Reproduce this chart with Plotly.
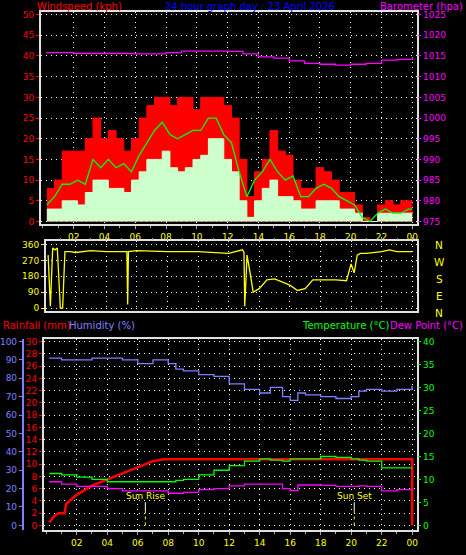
import plotly.graph_objects as go

# ---- data (hours of day, 24 = midnight end) ----
wind_t = [0.25, 0.75, 1.25, 1.75, 2.25, 2.75, 3.25, 3.75, 4.25, 4.75, 5.25, 5.75,
          6.25, 6.75, 7.25, 7.75, 8.25, 8.75, 9.25, 9.75, 10.25, 10.75, 11.25, 11.75,
          12.25, 12.75, 13.25, 13.75, 14.25, 14.75, 15.25, 15.75, 16.25, 16.75, 17.25, 17.75,
          18.25, 18.75, 19.25, 19.75, 20.25, 20.75, 21.25, 21.75, 22.25, 22.75, 23.25, 23.75, 24.0]
gust = [8, 10, 17, 17, 17, 20, 25, 20, 22, 20, 17, 20,
        25, 28, 30, 30, 28, 30, 30, 27, 30, 30, 30, 28,
        25, 15, 6, 12, 15, 22, 17, 16, 10, 8, 8, 13,
        12, 10, 7, 7, 4, 1, 0, 4, 5, 4, 5, 5, 5]
avg = [3, 3, 5, 5, 4, 7, 10, 10, 8, 8, 7, 10,
       12, 15, 15, 17, 13, 12, 13, 15, 16, 20, 20, 15,
       12, 5, 1, 5, 8, 10, 6, 6, 5, 3, 3, 5,
       5, 5, 3, 3, 2, 0, 0, 2, 2, 2, 2, 2, 2]
avg10 = [4, 6, 9, 9, 10, 9, 15, 13, 15, 13, 14, 12,
         16, 19, 22, 24, 21, 20, 21, 22, 22, 25, 25, 21,
         19, 12, 6, 10, 12, 15, 12, 10, 11, 6, 6, 8,
         9, 8, 6, 5, 4, 1, 0, 2, 3, 2, 2, 3, 3]

baro_t = [0.2, 2, 4, 6, 8, 9, 10, 11, 12, 13, 14, 15, 16, 17, 18, 19, 20, 21, 22, 23, 24]
baro = [1015.8, 1015.6, 1015.6, 1015.5, 1015.8, 1016.2, 1016.2, 1016.2, 1016.1, 1015.5, 1014.8,
        1014.5, 1013.8, 1013.2, 1013.0, 1012.8, 1013.0, 1013.2, 1014.0, 1014.2, 1014.8]

dir_t = [0.2, 0.35, 0.5, 0.65, 0.8, 1.0, 1.15, 1.3, 1.5, 1.65, 2.0, 3.0, 4.0, 5.0, 5.35, 5.4, 5.45,
         6.0, 8.0, 10.0, 12.0, 12.9, 13.0, 13.05, 13.2, 13.4, 13.6, 14.0, 14.5, 15.0, 16.0, 16.5,
         17.0, 17.5, 18.0, 19.0, 19.7, 20.0, 20.2, 20.4, 20.6, 21.0, 22.0, 22.5, 23.0, 24.0]
wdir = [300, 10, 340, 330, 340, 0, 0, 320, 320, 320, 315, 325, 320, 320, 320, 20, 320,
        325, 320, 320, 310, 330, 315, 10, 300, 200, 90, 110, 160, 165, 130, 100,
        110, 160, 160, 160, 155, 250, 200, 300, 310, 310, 320, 330, 320, 320]

th_t = [0.2, 1, 2, 3, 4, 5, 6, 7, 8, 8.5, 9, 10, 11, 12, 13, 14, 14.7, 15.5, 16, 16.5,
        17, 18, 19, 20, 20.5, 21, 22, 23, 24]
humidity = [91, 90, 90, 91, 91, 90, 88, 90, 88, 85, 84, 82, 81, 77, 74, 72, 75, 70, 68, 72,
            71, 70, 69, 70, 73, 74, 73, 74, 76]
temp = [11.3, 11, 10.5, 10, 9.5, 9.5, 9.5, 9.5, 9.5, 9.8, 10, 11, 12, 13, 14, 14.5, 14.2, 14, 14.5, 14.5,
        14.5, 15, 14.8, 14.5, 14.2, 14, 12.5, 12.5, 12.5]
dew = [9.5, 9, 8.5, 8.5, 8, 7.5, 7.5, 7.5, 7, 7, 7.2, 7.8, 8, 8.6, 9, 9, 9, 8, 7.6, 8.8,
       8.8, 8.7, 8.5, 8.5, 8.6, 8.5, 7.5, 7.8, 8]

rain_t = [0.2, 0.5, 0.8, 1.2, 1.3, 2, 3, 4, 5, 6, 7, 7.7, 24, 24]
rain = [0.5, 1.5, 2, 2, 3.5, 5, 6.5, 7.5, 8.5, 9.5, 10.5, 10.8, 10.8, 0]

hour_vals = [2, 4, 6, 8, 10, 12, 14, 16, 18, 20, 22, 24]
hour_text = ["02", "04", "06", "08", "10", "12", "14", "16", "18", "20", "22", "00"]

W, H = 466, 555
def px(x): return x / W
def py(y): return 1 - y / H

FONT = "DejaVu Sans"
fig = go.Figure()

fig.add_trace(go.Scatter(x=wind_t, y=gust, mode="lines", line=dict(color="#ff0000", width=1, shape="hv"),
                         fill="tozeroy", fillcolor="#ff0000", xaxis="x", yaxis="y"))
fig.add_trace(go.Scatter(x=wind_t, y=avg, mode="lines", line=dict(color="#ccffcc", width=1, shape="hv"),
                         fill="tozeroy", fillcolor="#ccffcc", xaxis="x", yaxis="y"))
fig.add_trace(go.Scatter(x=wind_t, y=avg10, mode="lines", line=dict(color="#00ff00", width=1.3),
                         xaxis="x", yaxis="y"))
fig.add_trace(go.Scatter(x=baro_t, y=baro, mode="lines", line=dict(color="#ff00ff", width=1.3, shape="hv"),
                         xaxis="x", yaxis="y2"))
fig.add_trace(go.Scatter(x=dir_t, y=wdir, mode="lines", line=dict(color="#ffff00", width=1.3),
                         xaxis="x2", yaxis="y3"))
fig.add_trace(go.Scatter(x=th_t, y=humidity, mode="lines", line=dict(color="#8080ff", width=1.3, shape="hv"),
                         xaxis="x3", yaxis="y4"))
fig.add_trace(go.Scatter(x=th_t, y=temp, mode="lines", line=dict(color="#00ff00", width=1.3, shape="hv"),
                         xaxis="x3", yaxis="y6"))
fig.add_trace(go.Scatter(x=th_t, y=dew, mode="lines", line=dict(color="#ff00ff", width=1.3, shape="hv"),
                         xaxis="x3", yaxis="y6"))
fig.add_trace(go.Scatter(x=rain_t, y=rain, mode="lines", line=dict(color="#ff0000", width=2.5),
                         xaxis="x3", yaxis="y5"))

grid = dict(showgrid=True, gridcolor="white", griddash="1px,4px", gridwidth=1)
frame = dict(showline=True, linecolor="#e0e0e0", linewidth=1.5, mirror=True, zeroline=False)
tickf = dict(family=FONT, size=9, color="#ffff00")

def xax(dom, rng, anchor, side="bottom", labels=True):
    return dict(domain=dom, range=rng, anchor=anchor, tickvals=hour_vals, ticktext=hour_text, side=side,
                showticklabels=labels, tickfont=tickf, ticks="outside", ticklen=3, tickcolor="#aaaaaa",
                minor=dict(dtick=1, ticks="outside", ticklen=2, tickcolor="#aaaaaa"), **grid, **frame)

fig.update_layout(
    width=W, height=H, margin=dict(l=0, r=0, t=0, b=0),
    paper_bgcolor="black", plot_bgcolor="black", showlegend=False,
    xaxis=xax([px(40), px(418)], [-0.14, 24.32], "y"),
    xaxis2=xax([px(45), px(418)], [0.05, 24.32], "y3", side="top", labels=False),
    xaxis3=xax([px(43), px(418)], [-0.16, 24.33], "y5"),
    yaxis=dict(domain=[py(224), py(10)], range=[-0.7, 50.65], dtick=5, anchor="x",
               tickfont=dict(family=FONT, size=9, color="#ff0000"), ticks="outside", ticklen=3,
               tickcolor="#ff0000", **grid, **frame),
    yaxis2=dict(overlaying="y", side="right", anchor="x", range=[974.3, 1025.65], dtick=5,
                tickfont=dict(family=FONT, size=9, color="#ff00ff"), ticks="outside", ticklen=3,
                tickcolor="#ff00ff", showgrid=False, zeroline=False),
    yaxis3=dict(domain=[py(311), py(241)], range=[-15, 378.5], tickvals=[0, 90, 180, 270, 360],
                anchor="x2", tickfont=dict(family=FONT, size=9, color="#ffff00"), ticks="outside",
                ticklen=3, tickcolor="#ffff00", **grid, **frame),
    yaxis5=dict(domain=[py(532), py(339)], range=[-0.77, 30.5], dtick=2, anchor="x3",
                tickfont=dict(family=FONT, size=9, color="#ff0000"), ticks="outside", ticklen=3,
                tickcolor="#ff0000", **grid, **frame),
    yaxis4=dict(overlaying="y5", anchor="free", position=px(22), range=[-2.6, 101.6], dtick=10,
                tickfont=dict(family=FONT, size=9, color="#8080ff"), ticks="outside", ticklen=3,
                tickcolor="#8080ff", showline=True, linecolor="#8080ff", linewidth=2,
                showgrid=False, zeroline=False),
    yaxis6=dict(overlaying="y5", side="right", anchor="x3", range=[-1.03, 40.65], dtick=5,
                tickfont=dict(family=FONT, size=9, color="#00ff00"), ticks="outside", ticklen=3,
                tickcolor="#00ff00", showgrid=False, zeroline=False),
)

def label(x, y, text, color, anchor="left", size=10):
    fig.add_annotation(x=px(x), y=py(y), xref="paper", yref="paper", text=text, showarrow=False,
                       xanchor=anchor, yanchor="middle", font=dict(family=FONT, size=size, color=color))

label(34, 5, "Windspeed (kph)", "#ff0000")
label(250, 5, "24 hour graph day : 23 April 2026", "#0000ff", "center")
label(466, 5, "Barometer (hpa)", "#ff00ff", "right")
label(0, 326, "Rainfall (mm)", "#ff0000")
label(66, 326, "Humidity (%)", "#8080ff")
label(392, 326, "Temperature (°C)", "#00ff00", "right")
label(466, 326, "Dew Point (°C)", "#ff00ff", "right")
for i, c in enumerate(["N", "W", "S", "E", "N"]):
    label(440, 245 + i * 17, c, "#ffff00", "center", 10.5)

for hr, txt in [(6.5, "Sun Rise"), (20.2, "Sun Set")]:
    fig.add_shape(type="line", xref="x3", yref="y5", x0=hr, x1=hr, y0=0, y1=2.3,
                  line=dict(color="#ffff00", width=1, dash="dot"))
    fig.add_shape(type="line", xref="x3", yref="y5", x0=hr, x1=hr, y0=2.3, y1=3.8,
                  line=dict(color="white", width=1))
    fig.add_annotation(x=hr, y=4.8, xref="x3", yref="y5", text=txt, showarrow=False,
                       font=dict(family=FONT, size=9, color="#ffff00"))

# page has a default 8px body margin; drop it so the chart fills the window
fig.write_html("out.html", config={"displayModeBar": False},
               post_script="document.body.style.margin='0';document.body.style.background='black';")
